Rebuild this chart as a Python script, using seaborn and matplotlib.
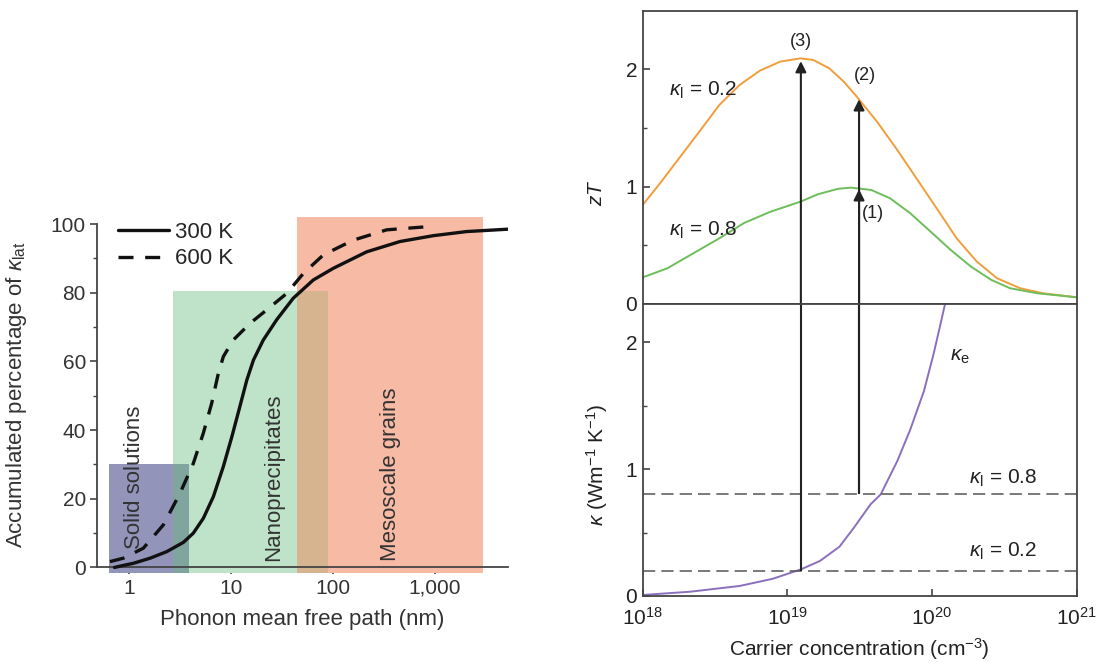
import numpy as np
import matplotlib
matplotlib.use("Agg")
import matplotlib.pyplot as plt
import seaborn as sns
from matplotlib.patches import Rectangle
from matplotlib.ticker import FixedLocator, FixedFormatter, NullLocator

# LEFT PANEL DATA (phonon mean free path in nm, accumulated % of k_lat)
mfp_300 = [0.72, 0.85, 1.10, 1.61, 2.34, 3.41, 4.27, 5.35, 6.71, 8.41, 10.2, 12.2,
           14.3, 16.6, 20.7, 28.0, 40.8, 64.1, 100.7, 214, 454, 962, 2045, 5240]
acc_300 = [0, 0.5, 1.2, 2.7, 4.6, 7.3, 10.0, 14.3, 20.6, 29.4, 38.1, 46.8,
           54.6, 60.4, 66.2, 72.1, 78.4, 83.7, 87.1, 91.9, 94.9, 96.6, 97.8, 98.5]
mfp_600 = [0.65, 0.88, 1.38, 2.17, 3.16, 4.27, 5.35, 6.46, 7.51, 8.41, 10.5,
           15.4, 22.4, 35.2, 51.2, 80.4, 158, 336, 829]
acc_600 = [1.7, 2.7, 5.6, 12.4, 21.6, 30.3, 39.1, 47.8, 56.5, 61.4, 66.2,
           71.1, 75.0, 79.8, 85.6, 91.0, 95.3, 98.3, 99.2]

regions = ["Solid solutions", "Nanoprecipitates", "Mesoscale grains"]
region_lo = [0.64, 2.68, 44.7]
region_hi = [3.87, 88.7, 2980]
region_top = [30, 80.5, 102]
region_text_x = [1.12, 26, 370]
region_text_y = [5.5, 2, 2]
region_colors = ["#9294ba", "#bee3c8", "#f7bba5"]
overlap_colors = ["#80a59f", "#d5b48f"]

x_ticks_left = [1, 10, 100, 1000]
x_ticklabels_left = ["1", "10", "100", "1,000"]

# RIGHT PANEL DATA (log10 carrier concentration)
logn_zt02 = [18.0, 18.12, 18.26, 18.40, 18.53, 18.67, 18.81, 18.95, 19.09, 19.18,
             19.29, 19.39, 19.48, 19.62, 19.76, 19.90, 20.04, 20.17, 20.31, 20.45,
             20.61, 20.77, 21.0]
zt_02 = [0.844, 1.029, 1.256, 1.483, 1.697, 1.867, 1.989, 2.066, 2.094, 2.08,
         2.009, 1.895, 1.767, 1.554, 1.313, 1.057, 0.801, 0.56, 0.361, 0.219,
         0.134, 0.091, 0.057]
logn_zt08 = [18.0, 18.17, 18.33, 18.53, 18.70, 18.88, 19.09, 19.21, 19.35, 19.44,
             19.58, 19.71, 19.85, 19.99, 20.13, 20.27, 20.41, 20.54, 20.73, 21.0]
zt_08 = [0.227, 0.304, 0.418, 0.56, 0.69, 0.785, 0.872, 0.935, 0.982, 0.992,
         0.972, 0.901, 0.773, 0.617, 0.46, 0.318, 0.205, 0.134, 0.091, 0.057]
logn_ke = [18.0, 18.33, 18.67, 18.90, 19.094, 19.225, 19.36, 19.46, 19.575,
           19.645, 19.76, 19.85, 19.944, 20.01, 20.058, 20.09]
ke = [0.008, 0.034, 0.079, 0.136, 0.21, 0.276, 0.388, 0.538, 0.722,
      0.80, 1.063, 1.312, 1.614, 1.903, 2.139, 2.30]

kappa_l = [0.2, 0.8]
arrow_n = [1.24e19, 3.13e19, 3.13e19]
arrow_base = [0.2, 0.8, 0.8]
arrow_tip = [2.07, 1.745, 0.978]
arrow_labels = ["(3)", "(2)", "(1)"]
arrow_label_x = [1.24e19, 3.44e19, 3.93e19]
arrow_label_y = [2.24, 1.95, 0.773]

x_ticks_right = [1e18, 1e19, 1e20, 1e21]
x_ticklabels_right = ["$10^{18}$", "$10^{19}$", "$10^{20}$", "$10^{21}$"]

# STYLE
sns.set_style("ticks")
plt.rcParams["font.family"] = ["Liberation Sans", "DejaVu Sans"]
plt.rcParams["mathtext.fontset"] = "custom"
plt.rcParams["mathtext.rm"] = "Liberation Sans"
plt.rcParams["mathtext.it"] = "Liberation Sans:italic"
plt.rcParams["mathtext.bf"] = "Liberation Sans:bold"
ink = "#333333"
dark = "#222222"

fig = plt.figure(figsize=(11.06, 6.62), dpi=100)

# LEFT PANEL
ax = fig.add_axes([0.0877, 0.134, 0.3716, 0.5406])
ax.set_xscale("log")
ax.set_xlim(0.485, 5200)
ax.set_ylim(-1.7, 102.5)

for i, name in enumerate(regions):
    ax.add_patch(Rectangle((region_lo[i], -1.7), region_hi[i] - region_lo[i],
                           region_top[i] + 1.7, color=region_colors[i], lw=0, zorder=1))
for i in range(len(regions) - 1):
    lo, hi = region_lo[i + 1], region_hi[i]
    top = min(region_top[i], region_top[i + 1])
    ax.add_patch(Rectangle((lo, -1.7), hi - lo, top + 1.7,
                           color=overlap_colors[i], lw=0, zorder=1.5))
for i, name in enumerate(regions):
    ax.text(region_text_x[i], region_text_y[i], name, rotation=90, ha="center",
            va="bottom", fontsize=16, color=ink, zorder=2)

sns.lineplot(x=mfp_300, y=acc_300, ax=ax, color="#111111", lw=2.4,
             label="300 K", sort=False, zorder=3)
sns.lineplot(x=mfp_600, y=acc_600, ax=ax, color="#111111", lw=2.4,
             linestyle=(0, (4.5, 3.5)), label="600 K", sort=False, zorder=3)

ax.legend(loc="upper left", bbox_to_anchor=(0.05, 0.982), frameon=False,
          fontsize=16, handlelength=2.3, handletextpad=0.3, labelspacing=0.25,
          borderpad=0, borderaxespad=0)

for s in ["top", "right"]:
    ax.spines[s].set_visible(False)
ax.spines["bottom"].set_position(("data", 0))
ax.spines["left"].set_bounds(0, 100)
for s in ["bottom", "left"]:
    ax.spines[s].set_color("#444444")
    ax.spines[s].set_linewidth(1.3)

ax.xaxis.set_major_locator(FixedLocator(x_ticks_left))
ax.xaxis.set_major_formatter(FixedFormatter(x_ticklabels_left))
ax.xaxis.set_minor_locator(FixedLocator([5, 50, 500]))
ax.set_yticks([0, 20, 40, 60, 80, 100])
ax.set_yticks([10, 30, 50, 70, 90], minor=True)
ax.tick_params(which="major", direction="out", length=5, width=1.2,
               labelsize=15, color="#444444", labelcolor=ink, pad=3)
ax.tick_params(which="minor", direction="out", length=3, width=1.0, color="#444444")
ax.set_xlabel("Phonon mean free path (nm)", fontsize=16, color=ink, labelpad=8)
ax.set_ylabel(r"Accumulated percentage of $\kappa_{\mathrm{lat}}$", fontsize=16,
              color=ink)
ax.yaxis.set_label_coords(-0.165, 0.5)

# RIGHT PANELS
ax_t = fig.add_axes([0.5811, 0.5408, 0.3924, 0.443])
ax_b = fig.add_axes([0.5811, 0.0997, 0.3924, 0.4411])
for a in (ax_t, ax_b):
    a.set_xscale("log")
    a.set_xlim(1e18, 1e21)
    for s in a.spines.values():
        s.set_color("#444444")
        s.set_linewidth(1.3)
ax_t.set_ylim(0, 2.5)
ax_b.set_ylim(0, 2.3)

sns.lineplot(x=10 ** np.array(logn_zt02), y=zt_02, ax=ax_t, color="#f29d3c",
             lw=1.4, sort=False)
sns.lineplot(x=10 ** np.array(logn_zt08), y=zt_08, ax=ax_t, color="#6dbd5b",
             lw=1.4, sort=False)
sns.lineplot(x=10 ** np.array(logn_ke), y=ke, ax=ax_b, color="#8b6fbd",
             lw=1.4, sort=False)

for k in kappa_l:
    ax_b.axhline(k, color="#555555", lw=1.1, ls=(0, (8, 4)))

for i in range(len(arrow_n)):
    ax_b.vlines(arrow_n[i], arrow_base[i], 2.3, color=dark, lw=1.5)
    ax_t.annotate("", xy=(arrow_n[i], arrow_tip[i]), xytext=(arrow_n[i], 0),
                  arrowprops=dict(arrowstyle="-|>", color=dark, lw=1.5,
                                  mutation_scale=16, shrinkA=0, shrinkB=0))
    ax_t.text(arrow_label_x[i], arrow_label_y[i], arrow_labels[i], ha="center",
              va="center", fontsize=13, color=dark)

ax_t.text(2.62e18, 1.824, r"$\kappa_\mathrm{l}$ = 0.2", ha="center", va="center",
          fontsize=15, color=dark)
ax_t.text(2.62e18, 0.631, r"$\kappa_\mathrm{l}$ = 0.8", ha="center", va="center",
          fontsize=15, color=dark)
ax_b.text(3.1e20, 0.93, r"$\kappa_\mathrm{l}$ = 0.8", ha="center", va="center",
          fontsize=15, color=dark)
ax_b.text(3.1e20, 0.354, r"$\kappa_\mathrm{l}$ = 0.2", ha="center", va="center",
          fontsize=15, color=dark)
ax_b.text(1.55e20, 1.89, r"$\kappa_\mathrm{e}$", ha="center", va="center",
          fontsize=15, color=dark)

ax_t.set_yticks([0, 1, 2])
ax_t.set_yticks([0.5, 1.5], minor=True)
ax_t.xaxis.set_major_locator(NullLocator())
ax_t.xaxis.set_minor_locator(NullLocator())
ax_b.set_yticks([0, 1, 2])
ax_b.set_yticks([0.5, 1.5], minor=True)
ax_b.xaxis.set_major_locator(FixedLocator(x_ticks_right))
ax_b.xaxis.set_major_formatter(FixedFormatter(x_ticklabels_right))
ax_b.xaxis.set_minor_locator(NullLocator())
for a in (ax_t, ax_b):
    a.tick_params(which="major", direction="in", length=5, width=1.2,
                  labelsize=15, color="#444444", labelcolor=dark, pad=4)
    a.tick_params(which="minor", direction="in", length=3, width=1.0,
                  color="#444444")
ax_b.tick_params(axis="x", pad=8)

ax_t.set_ylabel("$zT$", fontsize=15, color=dark)
ax_t.yaxis.set_label_coords(-0.085, 0.38)
ax_b.set_ylabel(r"$\kappa$ (Wm$^{-1}$ K$^{-1}$)", fontsize=15, color=dark)
ax_b.yaxis.set_label_coords(-0.075, 0.45)
ax_b.set_xlabel(r"Carrier concentration (cm$^{-3}$)", fontsize=15,
                color=dark, labelpad=5)

fig.savefig("out.png", dpi=100)
